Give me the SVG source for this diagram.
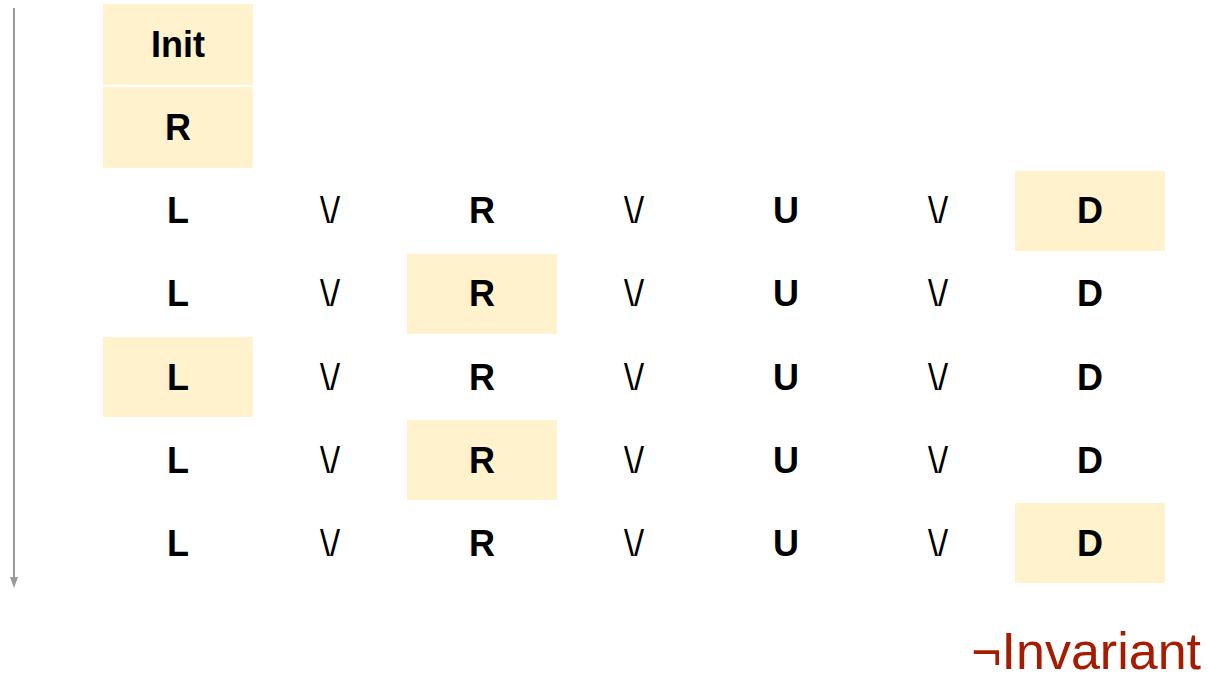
<svg xmlns="http://www.w3.org/2000/svg" width="1209" height="680" viewBox="0 0 1209 680">
<style>
.hl{fill:#FFF2CC}
.t{font-family:"Liberation Sans",Arial,sans-serif;font-size:36px;font-weight:bold;fill:#000;text-anchor:middle}
.o{font-family:"Liberation Sans",Arial,sans-serif;font-size:36px;fill:#000;text-anchor:middle}
.neg{font-family:"Liberation Sans",Arial,sans-serif;font-size:52px;fill:#A61C00;text-anchor:end}
</style>
<defs>
<marker id="ah" markerWidth="11" markerHeight="8" refX="0" refY="4" orient="auto" markerUnits="userSpaceOnUse" viewBox="0 0 11 8">
<path d="M0,0 L11,4 L0,8 Z" fill="#999"/>
</marker>
</defs>
<g id="connectors">
<line x1="14" y1="8" x2="14" y2="577" stroke="#999" stroke-width="2" marker-end="url(#ah)"/>
</g>
<g id="row-init"><rect class="hl" x="103" y="4" width="150" height="81"/><text class="t" x="178" y="57">Init</text></g>
<g id="row-r"><rect class="hl" x="103" y="87" width="150" height="81"/><text class="t" x="178" y="140">R</text></g>
<g id="row3">
<rect class="hl" x="1015" y="171" width="150" height="80"/>
<text class="t" x="178" y="223">L</text><text class="o" x="330" y="223">\/</text><text class="t" x="482" y="223">R</text><text class="o" x="634" y="223">\/</text><text class="t" x="786" y="223">U</text><text class="o" x="938" y="223">\/</text><text class="t" x="1090" y="223">D</text>
</g>
<g id="row4">
<rect class="hl" x="407" y="254" width="150" height="80"/>
<text class="t" x="178" y="306">L</text><text class="o" x="330" y="306">\/</text><text class="t" x="482" y="306">R</text><text class="o" x="634" y="306">\/</text><text class="t" x="786" y="306">U</text><text class="o" x="938" y="306">\/</text><text class="t" x="1090" y="306">D</text>
</g>
<g id="row5">
<rect class="hl" x="103" y="337" width="150" height="80"/>
<text class="t" x="178" y="390">L</text><text class="o" x="330" y="390">\/</text><text class="t" x="482" y="390">R</text><text class="o" x="634" y="390">\/</text><text class="t" x="786" y="390">U</text><text class="o" x="938" y="390">\/</text><text class="t" x="1090" y="390">D</text>
</g>
<g id="row6">
<rect class="hl" x="407" y="420" width="150" height="80"/>
<text class="t" x="178" y="473">L</text><text class="o" x="330" y="473">\/</text><text class="t" x="482" y="473">R</text><text class="o" x="634" y="473">\/</text><text class="t" x="786" y="473">U</text><text class="o" x="938" y="473">\/</text><text class="t" x="1090" y="473">D</text>
</g>
<g id="row7">
<rect class="hl" x="1015" y="503" width="150" height="80"/>
<text class="t" x="178" y="556">L</text><text class="o" x="330" y="556">\/</text><text class="t" x="482" y="556">R</text><text class="o" x="634" y="556">\/</text><text class="t" x="786" y="556">U</text><text class="o" x="938" y="556">\/</text><text class="t" x="1090" y="556">D</text>
</g>
<g id="label-neg-invariant"><text class="neg" x="1201" y="669">¬Invariant</text></g>
</svg>
